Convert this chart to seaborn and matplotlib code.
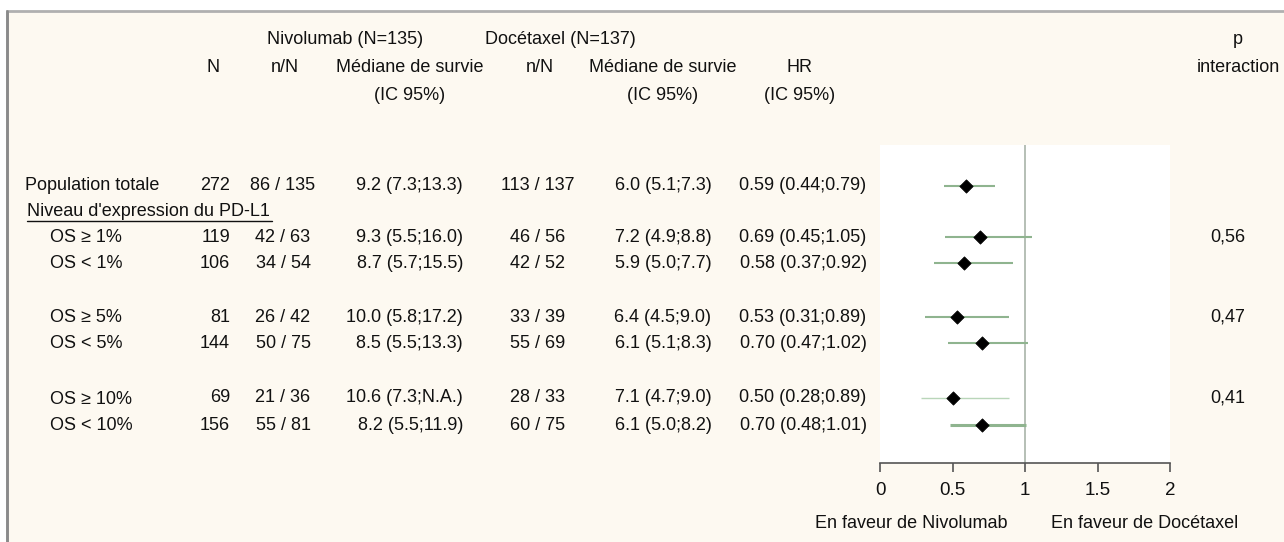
import matplotlib
matplotlib.use("Agg")
import matplotlib.pyplot as plt
from matplotlib.patches import Rectangle
import seaborn as sns

# données du tableau (Nivolumab vs Docétaxel, survie globale)
subgroups = ["Population totale", "OS ≥ 1%", "OS < 1%", "OS ≥ 5%", "OS < 5%",
             "OS ≥ 10%", "OS < 10%"]
n_total = [272, 119, 106, 81, 144, 69, 156]
nivo_events = [86, 42, 34, 26, 50, 21, 55]
nivo_n = [135, 63, 54, 42, 75, 36, 81]
nivo_med = [9.2, 9.3, 8.7, 10.0, 8.5, 10.6, 8.2]
nivo_lo = [7.3, 5.5, 5.7, 5.8, 5.5, 7.3, 5.5]
nivo_hi = [13.3, 16.0, 15.5, 17.2, 13.3, None, 11.9]
doc_events = [113, 46, 42, 33, 55, 28, 60]
doc_n = [137, 56, 52, 39, 69, 33, 75]
doc_med = [6.0, 7.2, 5.9, 6.4, 6.1, 7.1, 6.1]
doc_lo = [5.1, 4.9, 5.0, 4.5, 5.1, 4.7, 5.0]
doc_hi = [7.3, 8.8, 7.7, 9.0, 8.3, 9.0, 8.2]
hr = [0.59, 0.69, 0.58, 0.53, 0.70, 0.50, 0.70]
hr_lo = [0.44, 0.45, 0.37, 0.31, 0.47, 0.28, 0.48]
hr_hi = [0.79, 1.05, 0.92, 0.89, 1.02, 0.89, 1.01]
p_inter = {1: "0,56", 3: "0,47", 5: "0,41"}

# mise en page (pixels, origine en haut à gauche)
W, H = 1284, 542
row_y = [186, 237, 263, 317, 343, 398, 425]
label_x = [25, 50, 50, 50, 50, 50, 50]
label_dy = [0, 0, 0, 0, 0, 2, 0]
ci_color = ["#8fb48f", "#8fb48f", "#8fb48f", "#8fb48f", "#8fb48f", "#b9d6b9", "#8fb48f"]
ci_width = [1.5, 1.5, 1.5, 1.5, 1.5, 1.0, 2.2]

sns.set_theme(style="white")
plt.rcParams["font.family"] = ["Liberation Sans", "DejaVu Sans"]
FS = 13
TXT = "#111111"

fig = plt.figure(figsize=(W / 100, H / 100), dpi=100)
fig.patch.set_facecolor("white")

# fond + tableau dans un axe couvrant toute la figure
ax = fig.add_axes([0, 0, 1, 1])
ax.set_xlim(0, W)
ax.set_ylim(H, 0)
ax.axis("off")
ax.add_patch(Rectangle((7, 11), W + 20, H + 20, facecolor="#fdf9f1",
                       edgecolor="#b0b0b0", linewidth=2))
ax.plot([7, 7], [11, H], color="#8a8a8a", lw=2)


def t(x, y, s, ha="center"):
    ax.text(x, y, s, ha=ha, va="center", fontsize=FS, color=TXT)


# en-têtes
t(345, 40, "Nivolumab (N=135)")
t(560, 40, "Docétaxel (N=137)")
t(1238, 40, "p")
for x, s in [(213, "N"), (285, "n/N"), (410, "Médiane de survie"), (540, "n/N"),
             (663, "Médiane de survie"), (800, "HR"), (1238, "interaction")]:
    t(x, 67, s)
for x in [410, 663, 800]:
    t(x, 95, "(IC 95%)")

t(27, 211, "Niveau d'expression du PD-L1", ha="left")
ax.plot([27, 272], [221, 221], color=TXT, lw=1)


def med_txt(m, lo, hi):
    hi_s = "N.A." if hi is None else f"{hi:.1f}"
    return f"{m:.1f} ({lo:.1f};{hi_s})"


for i, y in enumerate(row_y):
    t(label_x[i], y + label_dy[i], subgroups[i], ha="left")
    t(230, y, str(n_total[i]), ha="right")
    t(283, y, f"{nivo_events[i]} / {nivo_n[i]}")
    t(463, y, med_txt(nivo_med[i], nivo_lo[i], nivo_hi[i]), ha="right")
    t(538, y, f"{doc_events[i]} / {doc_n[i]}")
    t(663, y, med_txt(doc_med[i], doc_lo[i], doc_hi[i]))
    t(803, y, f"{hr[i]:.2f} ({hr_lo[i]:.2f};{hr_hi[i]:.2f})")
    if i in p_inter:
        t(1228, y, p_inter[i])

# forest plot
x0, x1, ytop, ybot = 880, 1170, 145, 463
axf = fig.add_axes([x0 / W, 1 - ybot / H, (x1 - x0) / W, (ybot - ytop) / H])
axf.set_facecolor("white")
axf.set_xlim(0, 2)
axf.set_ylim(ybot, ytop)
axf.axvline(1, color="#a9b4a9", lw=1.2, zorder=1)
for i, y in enumerate(row_y):
    axf.hlines(y, hr_lo[i], hr_hi[i], color=ci_color[i], lw=ci_width[i], zorder=2)
sns.scatterplot(x=hr, y=row_y, marker="D", color="black", s=46,
                edgecolor="black", ax=axf, zorder=3, legend=False)
for s in ["top", "left", "right"]:
    axf.spines[s].set_visible(False)
axf.spines["bottom"].set_color("#555555")
axf.spines["bottom"].set_linewidth(1.2)
axf.set_xticks([0, 0.5, 1, 1.5, 2])
axf.set_xticklabels(["0", "0.5", "1", "1.5", "2"])
axf.set_yticks([])
axf.set_xlabel("")
axf.set_ylabel("")
axf.tick_params(axis="x", bottom=True, direction="out", length=6.5, width=1.2,
                color="#555555", labelsize=13.5, pad=7.5, labelcolor=TXT)

ax.text(911, 524, "En faveur de Nivolumab", ha="center", va="center",
        fontsize=FS, color=TXT)
ax.text(1145, 524, "En faveur de Docétaxel", ha="center", va="center",
        fontsize=FS, color=TXT)

fig.savefig("out.png", dpi=100, facecolor="white")
